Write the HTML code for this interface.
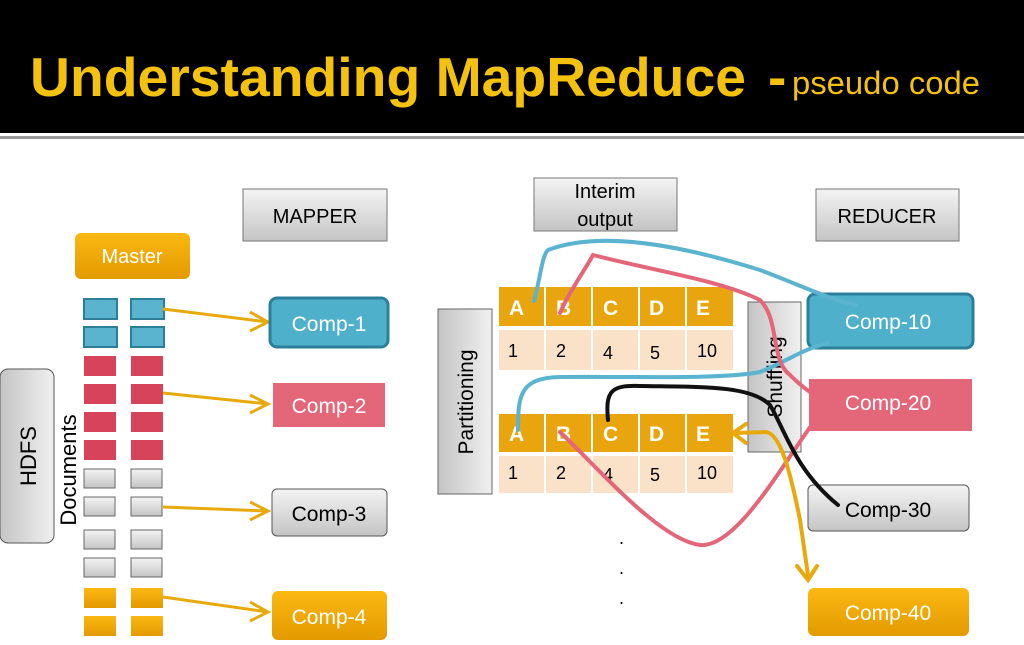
<!DOCTYPE html>
<html><head><meta charset="utf-8"><style>
body{margin:0;width:1024px;height:640px;overflow:hidden;background:#fff;font-family:"Liberation Sans",sans-serif}
</style></head><body>
<svg width="1024" height="640" xmlns="http://www.w3.org/2000/svg" font-family="Liberation Sans, sans-serif">
<defs>
<linearGradient id="g" x1="0" y1="0" x2="0" y2="1"><stop offset="0" stop-color="#f4f4f4"/><stop offset="1" stop-color="#c4c4c4"/></linearGradient>
<linearGradient id="gh" x1="0" y1="0" x2="1" y2="0"><stop offset="0" stop-color="#c4c4c4"/><stop offset="1" stop-color="#f0f0f0"/></linearGradient>
<linearGradient id="o" x1="0" y1="0" x2="0" y2="1"><stop offset="0" stop-color="#fbb812"/><stop offset="1" stop-color="#e39a00"/></linearGradient>
</defs>
<rect x="0" y="0" width="1024" height="133" fill="#000"/>
<rect x="0" y="136" width="1024" height="3" fill="#999"/>
<text x="30" y="96" fill="#f4c20d" font-size="55" font-weight="bold" textLength="716" lengthAdjust="spacingAndGlyphs">Understanding MapReduce</text>
<text x="768" y="96" fill="#f4c20d" font-size="55" font-weight="bold">-</text>
<text x="792" y="94" fill="#f4c20d" font-size="32" textLength="188" lengthAdjust="spacingAndGlyphs">pseudo code</text>

<rect x="243" y="189" width="144" height="52" fill="url(#g)" stroke="#777"/>
<text x="315" y="223" font-size="20" text-anchor="middle">MAPPER</text>
<rect x="75" y="233" width="115" height="46" rx="6" fill="url(#o)"/>
<text x="132" y="263" font-size="20" fill="#fff" text-anchor="middle">Master</text>

<rect x="0" y="369" width="54" height="174" rx="8" fill="url(#gh)" stroke="#555"/>
<text transform="translate(36,456) rotate(-90)" font-size="22" text-anchor="middle">HDFS</text>
<text transform="translate(76,470) rotate(-90)" font-size="22" text-anchor="middle">Documents</text>

<g stroke-width="2">
<rect x="84" y="299" width="33" height="20" fill="#5ab4cf" stroke="#2c7f97"/><rect x="131" y="299" width="33" height="20" fill="#5ab4cf" stroke="#2c7f97"/>
<rect x="84" y="327" width="33" height="20" fill="#5ab4cf" stroke="#2c7f97"/><rect x="131" y="327" width="33" height="20" fill="#5ab4cf" stroke="#2c7f97"/>
</g>
<g fill="#d8435c">
<rect x="84" y="356" width="32" height="20"/><rect x="131" y="356" width="32" height="20"/>
<rect x="84" y="384" width="32" height="20"/><rect x="131" y="384" width="32" height="20"/>
<rect x="84" y="412" width="32" height="20"/><rect x="131" y="412" width="32" height="20"/>
<rect x="84" y="440" width="32" height="20"/><rect x="131" y="440" width="32" height="20"/>
</g>
<g fill="url(#g)" stroke="#666">
<rect x="84" y="469" width="31" height="19"/><rect x="131" y="469" width="31" height="19"/>
<rect x="84" y="497" width="31" height="19"/><rect x="131" y="497" width="31" height="19"/>
<rect x="84" y="530" width="31" height="19"/><rect x="131" y="530" width="31" height="19"/>
<rect x="84" y="558" width="31" height="19"/><rect x="131" y="558" width="31" height="19"/>
</g>
<g fill="url(#o)">
<rect x="84" y="588" width="32" height="20"/><rect x="131" y="588" width="32" height="20"/>
<rect x="84" y="616" width="32" height="20"/><rect x="131" y="616" width="32" height="20"/>
</g>

<g stroke="#e8a90d" stroke-width="3" fill="none">
<path d="M163 309 L268 322 M250 312 L268 322 L250 331"/>
<path d="M163 393 L268 404 M250 395 L268 404 L250 413"/>
<path d="M163 507 L268 511 M250 502 L268 511 L250 520"/>
<path d="M163 597 L268 612 M250 602 L268 612 L250 621"/>
</g>
<rect x="270" y="298" width="118" height="49" rx="7" fill="#4fb0cc" stroke="#2b7f98" stroke-width="3"/>
<text x="329" y="331" font-size="21" fill="#fff" text-anchor="middle">Comp-1</text>
<rect x="272" y="382" width="114" height="46" fill="#e46679" stroke="#fff" stroke-width="2"/>
<text x="329" y="413" font-size="21" fill="#fff" text-anchor="middle">Comp-2</text>
<rect x="272" y="489" width="115" height="47" rx="5" fill="url(#g)" stroke="#555"/>
<text x="329" y="521" font-size="21" text-anchor="middle">Comp-3</text>
<rect x="272" y="591" width="115" height="49" rx="6" fill="url(#o)"/>
<text x="329" y="624" font-size="21" fill="#fff" text-anchor="middle">Comp-4</text>

<rect x="534" y="178" width="143" height="53" fill="url(#g)" stroke="#777"/>
<text x="605" y="198" font-size="20" text-anchor="middle">Interim</text>
<text x="605" y="226" font-size="20" text-anchor="middle">output</text>
<rect x="816" y="189" width="143" height="52" fill="url(#g)" stroke="#777"/>
<text x="887" y="223" font-size="20" text-anchor="middle">REDUCER</text>

<rect x="438" y="309" width="54" height="185" fill="url(#gh)" stroke="#666"/>
<text transform="translate(473,402) rotate(-90)" font-size="21" text-anchor="middle">Partitioning</text>

<g font-size="21" fill="#fff" font-weight="bold">
<rect x="499" y="287" width="234" height="39" fill="#e8a50d"/>
<rect x="499" y="414" width="234" height="38" fill="#e8a50d"/>
<rect x="499" y="330" width="234" height="40" fill="#fae2c8"/>
<rect x="499" y="456" width="234" height="37" fill="#fae2c8"/>
<g stroke="#fff" stroke-width="2"><path d="M545 287V370M592 287V370M639 287V370M686 287V370M545 414V493M592 414V493M639 414V493M686 414V493M499 328H733M499 454H733"/></g>
<text x="509" y="315">A</text><text x="556" y="315">B</text><text x="603" y="315">C</text><text x="649" y="315">D</text><text x="696" y="315">E</text>
<text x="509" y="441">A</text><text x="556" y="441">B</text><text x="603" y="441">C</text><text x="649" y="441">D</text><text x="696" y="441">E</text>
<g fill="#000" font-size="18" font-weight="normal"><text x="508" y="357">1</text><text x="556" y="357">2</text><text x="603" y="359">4</text><text x="650" y="359">5</text><text x="697" y="357">10</text>
<text x="508" y="479">1</text><text x="556" y="479">2</text><text x="603" y="481">4</text><text x="650" y="481">5</text><text x="697" y="479">10</text></g>
</g>

<rect x="748" y="302" width="53" height="150" fill="url(#gh)" stroke="#666"/>
<text transform="translate(782,377) rotate(-90)" font-size="21" text-anchor="middle">Shuffling</text>

<rect x="808" y="294" width="165" height="54" rx="7" fill="#4fb0cc" stroke="#2b7f98" stroke-width="3"/>
<text x="888" y="329" font-size="21" fill="#fff" text-anchor="middle">Comp-10</text>
<rect x="808" y="378" width="165" height="54" fill="#e46679" stroke="#fff" stroke-width="2"/>
<text x="888" y="410" font-size="21" fill="#fff" text-anchor="middle">Comp-20</text>
<rect x="808" y="485" width="161" height="46" rx="5" fill="url(#g)" stroke="#555"/>
<text x="888" y="517" font-size="21" text-anchor="middle">Comp-30</text>
<rect x="808" y="588" width="161" height="48" rx="6" fill="url(#o)"/>
<text x="888" y="620" font-size="21" fill="#fff" text-anchor="middle">Comp-40</text>

<g fill="none" stroke-width="4" stroke-linecap="round">
<path d="M534 301 C540 280 542 255 548 250 C600 230 680 245 760 270 C800 285 830 300 856 305" stroke="#5ab4cf"/>
<path d="M828 343 C800 350 790 360 760 372 C720 380 620 376 560 377 C520 378 518 395 518 430" stroke="#5ab4cf"/>
<path d="M560 313 C570 290 585 270 593 255 C650 270 720 280 760 300 C780 320 770 360 790 375 C805 390 820 400 835 405" stroke="#e46679"/>
<path d="M560 432 C600 470 660 540 700 545 C740 548 790 450 825 407" stroke="#e46679"/>
<path d="M608 420 C605 390 612 385 640 386 C700 387 750 385 770 405 C785 430 795 470 838 505" stroke="#111"/>
<path d="M735 433 L765 432 C780 432 790 470 800 520 L808 575" stroke="#e8a90d"/>
<path d="M746 424 L733 433 L746 443 M797 566 L808 580 L817 566" stroke="#e8a90d"/>
</g>
<g font-size="18"><text x="619" y="544">.</text><text x="619" y="574">.</text><text x="619" y="604">.</text></g>
</svg>
</body></html>
